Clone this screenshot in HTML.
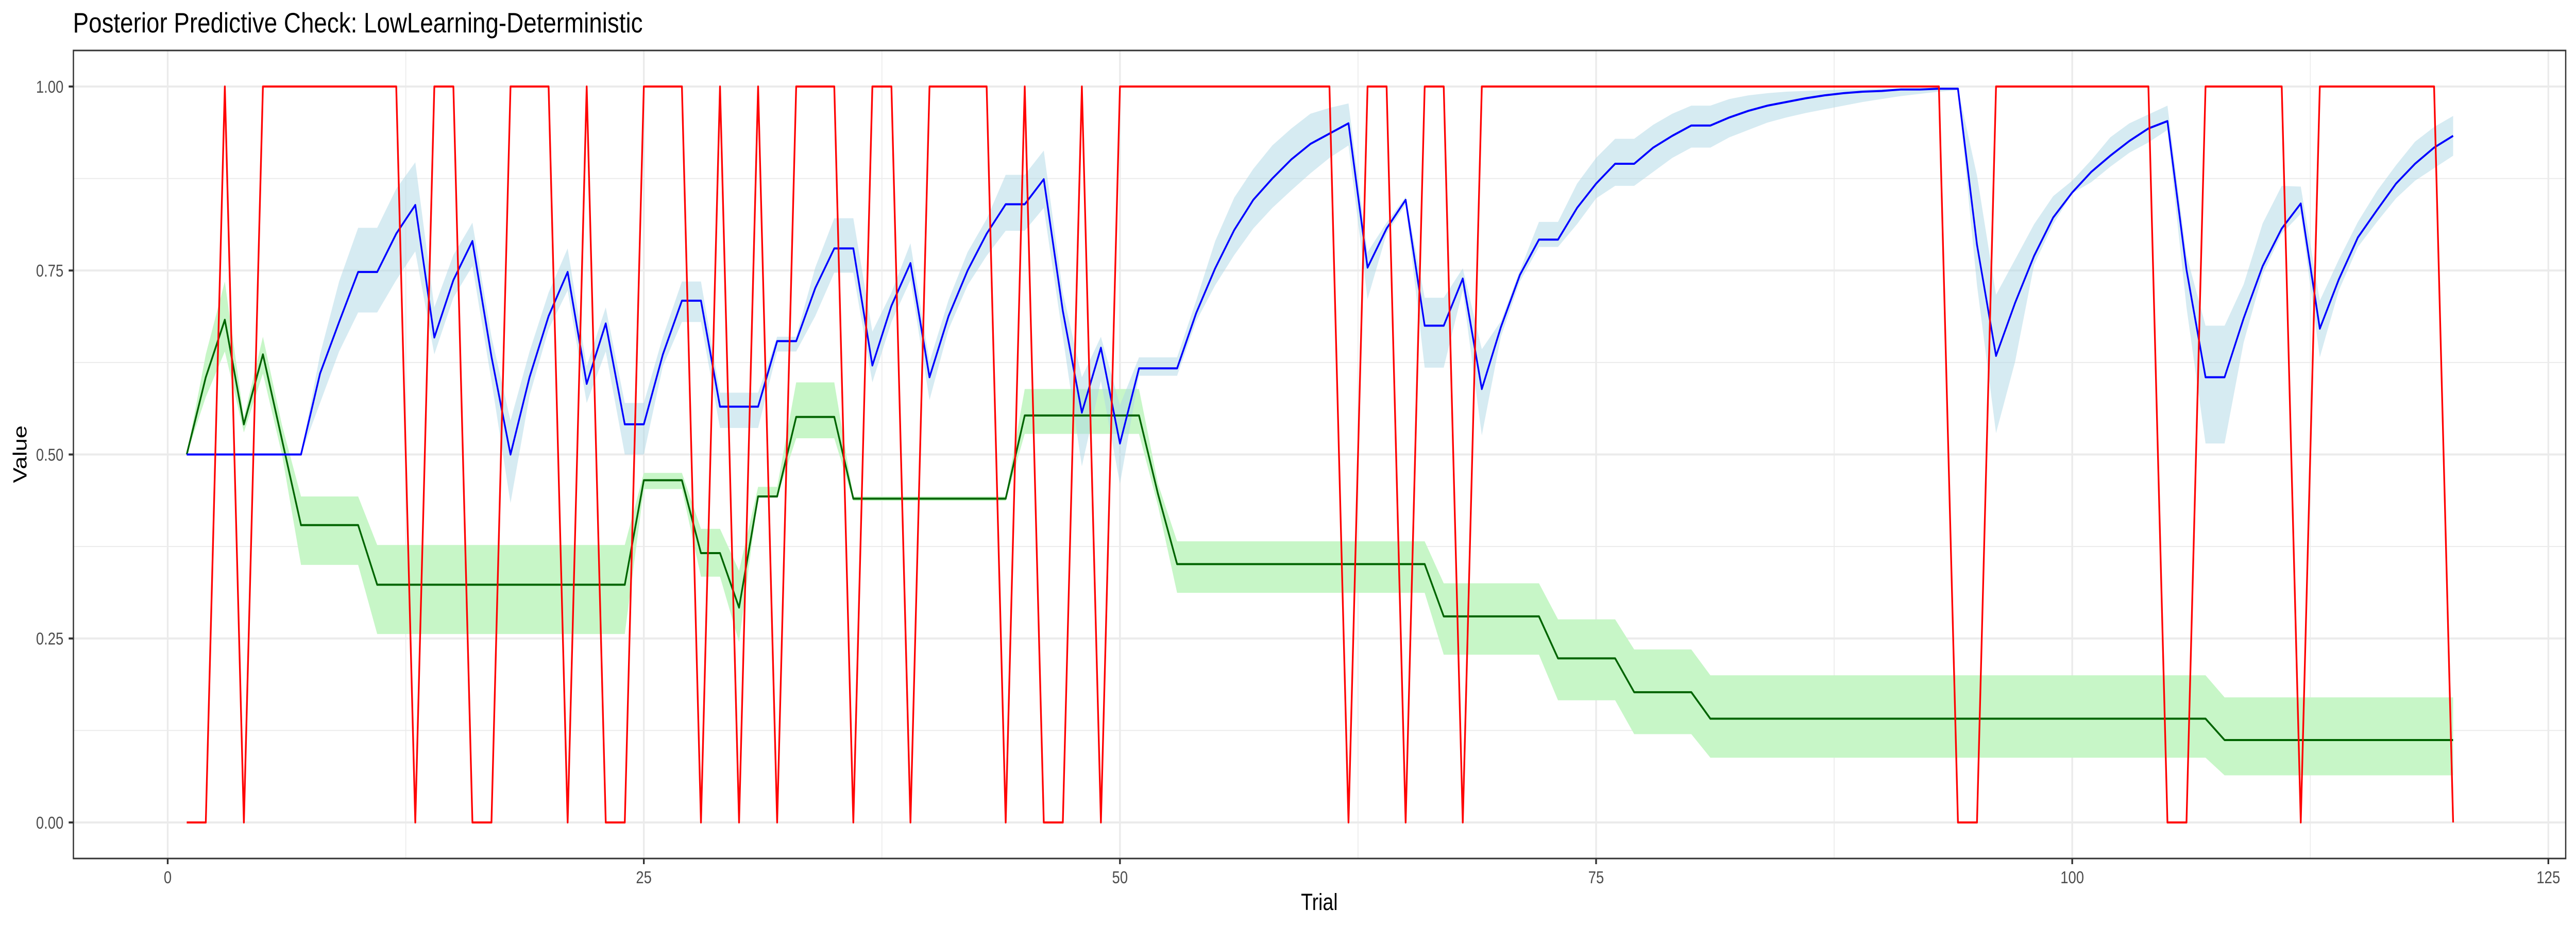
<!DOCTYPE html>
<html><head><meta charset="utf-8"><style>
html,body{margin:0;padding:0;background:#fff;overflow:hidden;width:100vw;height:100vh;}
svg{display:block;width:100vw;height:100vh;font-family:"Liberation Sans",Arial,sans-serif;}
</style></head><body>
<svg id="chart" viewBox="0 0 6000 1800" preserveAspectRatio="none" xmlns="http://www.w3.org/2000/svg">
<rect x="0" y="0" width="6000" height="1800" fill="#fff"/>
<text x="170" y="63" font-size="55" fill="#000" textLength="1327" lengthAdjust="spacingAndGlyphs">Posterior Predictive Check: LowLearning-Deterministic</text>
<g id="grid"></g>
<g id="bands"></g>
<g id="lines"></g>
<rect x="171" y="98" width="5805" height="1569" fill="none" stroke="#333" stroke-width="3"/>
<g id="axes"></g>
<text x="3073" y="1767" font-size="45" text-anchor="middle" fill="#000">Trial</text>
<text x="0" y="0" font-size="45" text-anchor="middle" fill="#000" transform="translate(62,882) rotate(-90)">Value</text>
</svg>
<script>
const trials = Array.from({length:120},(_,i)=>i+1);
const choices = [0,0,1,0,1,1,1,1,1,1,1,1,0,1,1,0,0,1,1,1,0,1,0,0,1,1,1,0,1,0,1,0,1,1,1,0,1,1,0,1,1,1,1,0,1,0,0,1,0,1,1,1,1,1,1,1,1,1,1,1,1,0,1,1,0,1,1,0,1,1,1,1,1,1,1,1,1,1,1,1,1,1,1,1,1,1,1,1,1,1,1,1,1,0,0,1,1,1,1,1,1,1,1,1,0,0,1,1,1,1,1,0,1,1,1,1,1,1,1,0];
const valueMean = [.5,.5,.5,.5,.5,.5,.5,.61,.68,.748,.748,.80,.839,.659,.737,.79,.633,.50,.605,.688,.748,.596,.678,.541,.541,.636,.709,.709,.565,.565,.565,.654,.654,.726,.78,.78,.621,.702,.76,.605,.688,.75,.80,.84,.84,.874,.695,.557,.645,.515,.617,.617,.617,.692,.753,.805,.846,.875,.901,.922,.936,.95,.754,.807,.846,.675,.675,.739,.589,.673,.744,.792,.792,.835,.868,.895,.895,.917,.933,.947,.947,.958,.967,.974,.979,.984,.988,.991,.993,.994,.996,.996,.997,.997,.785,.634,.706,.77,.822,.856,.884,.906,.926,.943,.953,.751,.605,.605,.685,.756,.807,.841,.671,.738,.795,.832,.868,.895,.917,.933];
const valueHi = [.5,.5,.5,.5,.5,.5,.5,.636,.735,.808,.808,.861,.897,.70,.771,.815,.66,.546,.64,.72,.78,.62,.70,.57,.57,.66,.735,.735,.584,.584,.584,.66,.66,.754,.821,.821,.667,.72,.787,.626,.71,.775,.82,.88,.88,.913,.72,.605,.66,.567,.632,.632,.632,.709,.79,.849,.888,.92,.943,.963,.971,.977,.775,.815,.85,.713,.713,.753,.643,.681,.75,.816,.816,.868,.903,.929,.929,.948,.963,.974,.974,.983,.988,.991,.993,.994,.995,.996,.996,.997,.997,.997,.997,.997,.879,.717,.765,.813,.851,.872,.90,.931,.95,.962,.974,.771,.675,.675,.731,.814,.865,.864,.709,.765,.816,.858,.893,.925,.945,.96];
const valueLo = [.5,.5,.5,.5,.5,.5,.5,.57,.64,.693,.693,.737,.776,.636,.713,.756,.60,.434,.58,.67,.723,.57,.64,.50,.50,.62,.68,.68,.536,.536,.536,.64,.64,.688,.747,.747,.598,.68,.737,.574,.67,.73,.77,.804,.804,.835,.66,.484,.60,.46,.607,.607,.607,.681,.73,.771,.807,.835,.859,.882,.903,.92,.711,.80,.84,.618,.618,.723,.526,.66,.735,.782,.782,.813,.848,.865,.865,.884,.903,.917,.917,.931,.941,.951,.958,.964,.969,.974,.979,.983,.987,.99,.993,.995,.73,.529,.626,.758,.813,.855,.87,.891,.91,.924,.941,.70,.515,.515,.652,.745,.80,.827,.632,.723,.782,.816,.848,.872,.889,.906];
const paramMean = [.5,.605,.683,.541,.636,.52,.404,.404,.404,.404,.323,.323,.323,.323,.323,.323,.323,.323,.323,.323,.323,.323,.323,.323,.465,.465,.465,.366,.366,.292,.443,.443,.551,.551,.551,.44,.44,.44,.44,.44,.44,.44,.44,.44,.553,.553,.553,.553,.553,.553,.553,.446,.351,.351,.351,.351,.351,.351,.351,.351,.351,.351,.351,.351,.351,.351,.28,.28,.28,.28,.28,.28,.223,.223,.223,.223,.177,.177,.177,.177,.141,.141,.141,.141,.141,.141,.141,.141,.141,.141,.141,.141,.141,.141,.141,.141,.141,.141,.141,.141,.141,.141,.141,.141,.141,.141,.141,.112,.112,.112,.112,.112,.112,.112,.112,.112,.112,.112,.112,.112];
const paramHi = [.5,.636,.735,.55,.66,.54,.443,.443,.443,.443,.377,.377,.377,.377,.377,.377,.377,.377,.377,.377,.377,.377,.377,.377,.475,.475,.475,.399,.399,.342,.456,.456,.598,.598,.598,.443,.443,.443,.443,.443,.443,.443,.443,.443,.589,.589,.589,.589,.589,.589,.589,.46,.382,.382,.382,.382,.382,.382,.382,.382,.382,.382,.382,.382,.382,.382,.325,.325,.325,.325,.325,.325,.276,.276,.276,.276,.235,.235,.235,.235,.2,.2,.2,.2,.2,.2,.2,.2,.2,.2,.2,.2,.2,.2,.2,.2,.2,.2,.2,.2,.2,.2,.2,.2,.2,.2,.2,.17,.17,.17,.17,.17,.17,.17,.17,.17,.17,.17,.17,.17];
const paramLo = [.5,.578,.64,.53,.61,.50,.35,.35,.35,.35,.256,.256,.256,.256,.256,.256,.256,.256,.256,.256,.256,.256,.256,.256,.453,.453,.453,.334,.334,.245,.443,.443,.522,.522,.522,.437,.437,.437,.437,.437,.437,.437,.437,.437,.528,.528,.528,.528,.528,.528,.528,.43,.312,.312,.312,.312,.312,.312,.312,.312,.312,.312,.312,.312,.312,.312,.228,.228,.228,.228,.228,.228,.166,.166,.166,.166,.12,.12,.12,.12,.088,.088,.088,.088,.088,.088,.088,.088,.088,.088,.088,.088,.088,.088,.088,.088,.088,.088,.088,.088,.088,.088,.088,.088,.088,.088,.088,.064,.064,.064,.064,.064,.064,.064,.064,.064,.064,.064,.064,.064];
const xTicks = [0,25,50,75,100,125];
const xTickLabels = ["0","25","50","75","100","125"];
const yTicks = [0,0.25,0.5,0.75,1];
const yTickLabels = ["0.00","0.25","0.50","0.75","1.00"];

const NS = "http://www.w3.org/2000/svg";
const X = t => 390.6 + 44.36 * t;
const Y = v => 1597 - 1429 * v;
const PL = 171, PR = 5976, PT = 98, PB = 1667;
function mk(tag, attrs, parent){const e=document.createElementNS(NS,tag);for(const k in attrs)e.setAttribute(k,attrs[k]);parent.appendChild(e);return e;}

const grid = document.getElementById('grid');
for (let i=0;i<xTicks.length;i++){
  const mx = xTicks[i]+12.5;
  if (X(mx) < PR) { const l=mk('line',{x1:X(mx),x2:X(mx),y1:PT,y2:PB,stroke:'#EBEBEB','stroke-width':2},grid);
    
     }
  const g=mk('line',{x1:X(xTicks[i]),x2:X(xTicks[i]),y1:PT,y2:PB,stroke:'#EBEBEB','stroke-width':4},grid);
  
  
}
for (let i=0;i<yTicks.length;i++){
  if (i<yTicks.length-1){ const mv=yTicks[i]+0.125; const l=mk('line',{x1:PL,x2:PR,y1:Y(mv),y2:Y(mv),stroke:'#EBEBEB','stroke-width':2},grid);
    
     }
  const g=mk('line',{x1:PL,x2:PR,y1:Y(yTicks[i]),y2:Y(yTicks[i]),stroke:'#EBEBEB','stroke-width':4},grid);
  
  
}

function ribbon(hi, lo, fill, name){
  let d = 'M' + trials.map((t,i)=>X(t)+','+Y(hi[i])).join('L');
  d += 'L' + trials.slice().reverse().map(t=>X(t)+','+Y(lo[t-1])).join('L') + 'Z';
  const p = mk('path',{d:d,fill:fill,stroke:'none'},document.getElementById('bands'));
  
  
}
function line(vals, color, name){
  const d = 'M' + trials.map((t,i)=>X(t)+','+Y(vals[i])).join('L');
  const p = mk('path',{d:d,fill:'none',stroke:color,'stroke-width':4,'stroke-linejoin':'round'},document.getElementById('lines'));
  
  
}
ribbon(paramHi, paramLo, '#C7F6C7', 'parameter-ribbon');
ribbon(valueHi, valueLo, 'rgba(173,216,230,0.5)', 'value-ribbon');
line(paramMean, '#006400', 'parameter-line');
line(valueMean, '#0000FF', 'value-line');
line(choices, '#FF0000', 'choice-line');

const axes = document.getElementById('axes');
for (let i=0;i<xTicks.length;i++){
  const tk=mk('line',{x1:X(xTicks[i]),x2:X(xTicks[i]),y1:PB,y2:PB+11,stroke:'#333','stroke-width':4},axes);
  
  
  const tx=mk('text',{x:X(xTicks[i]),y:1715,'font-size':33,'text-anchor':'middle',fill:'#4D4D4D'},axes);
  tx.textContent = xTickLabels[i];
  
  
}
for (let i=0;i<yTicks.length;i++){
  const tk=mk('line',{x1:PL-11,x2:PL,y1:Y(yTicks[i]),y2:Y(yTicks[i]),stroke:'#333','stroke-width':4},axes);
  
  
  const tx=mk('text',{x:148,y:Y(yTicks[i])+12,'font-size':33,'text-anchor':'end',fill:'#4D4D4D'},axes);
  tx.textContent = yTickLabels[i];
  
  
}
</script>
</body></html>
